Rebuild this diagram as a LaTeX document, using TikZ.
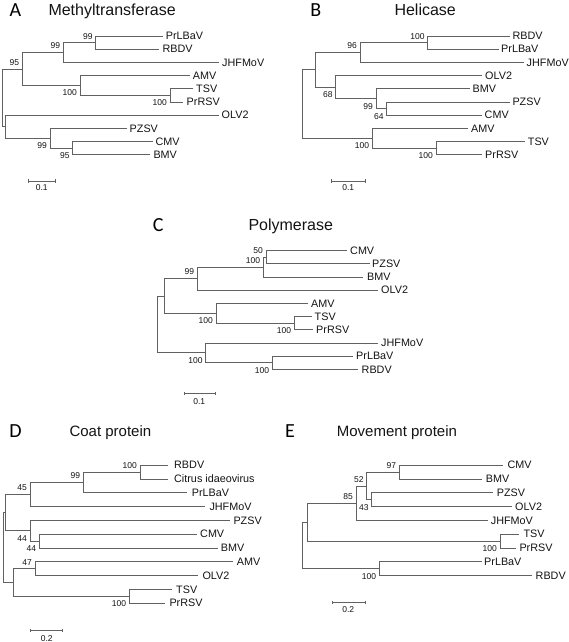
\documentclass[tikz,border=0pt]{standalone}
\usepackage{fontspec}
\setmainfont{Liberation Sans}
\newfontfamily\letterfont{Carlito}
\usetikzlibrary{arrows.meta}
\definecolor{linecol}{gray}{0.38}
\definecolor{txtcol}{gray}{0.08}
\tikzset{
  br/.style={draw=linecol, line width=0.75pt},
  leaf/.style={anchor=west, inner sep=0pt, font=\fontsize{10.8}{12}\selectfont, text=txtcol},
  bs/.style={anchor=east, inner sep=0pt, font=\fontsize{8.5}{10}\selectfont, text=txtcol},
  ptitle/.style={anchor=base west, inner sep=0pt, text=txtcol},
  pletter/.style={anchor=base, inner sep=0pt, font=\letterfont\fontsize{20}{24}\selectfont, text=black},
  sbar/.style={draw=linecol, line width=0.75pt, arrows={Bar[width=3.5pt]-Bar[width=3.5pt]}},
}
% name, parent, x, y
\newcommand\tnode[4]{\coordinate (#1) at (#3,#4); \draw[br] (#2) |- (#1);}
% name, parent, end x, y, label x, text
\newcommand\tleaf[6]{\coordinate (#1) at (#3,#4); \node[leaf] (#1t) at (#5,#4) {#6}; \draw[br] (#2) |- (#1);}
\newcommand\bup[2]{\node[bs] (#1bs) at ([shift={(-3,-6.5)}]#1) {#2};}
\newcommand\bdn[2]{\node[bs] (#1bs) at ([shift={(-3,7.5)}]#1) {#2};}
\begin{document}
\begin{tikzpicture}[x=1pt,y=-1pt]
\fill[white] (0,0) rectangle (568,642);
\useasboundingbox (0,0) rectangle (568,642);

% ---------------- Panel A ----------------
\node[pletter] (Alet) at (15.3,16.5) {A};
\node[ptitle, font=\fontsize{16}{19}\selectfont] (Atit) at (48.3,16) {Methyltransferase};
\coordinate (aR) at (2.3,97.9);
\tnode{a95}{aR}{22.3}{69}
\tnode{a99a}{a95}{63.3}{52.5}
\tnode{a99b}{a99a}{95.7}{42.6}
\tleaf{aPrLBaV}{a99b}{163.3}{36}{165.7}{PrLBaV}
\tleaf{aRBDV}{a99b}{159.3}{49.2}{162.3}{RBDV}
\tleaf{aJHF}{a99a}{218.7}{62.4}{222}{JHFMoV}
\tnode{aAMVn}{a95}{80}{85.5}
\tleaf{aAMV}{aAMVn}{190}{75.6}{192.7}{AMV}
\tnode{aTSVn}{aAMVn}{170}{95.4}
\tleaf{aTSV}{aTSVn}{193.3}{88.8}{196}{TSV}
\tleaf{aPrRSV}{aTSVn}{183.3}{102}{186.5}{PrRSV}
\tnode{aLow}{aR}{5.7}{126.75}
\tleaf{aOLV2}{aLow}{218.7}{115.2}{221.5}{OLV2}
\tnode{aPZn}{aLow}{50}{138.3}
\tleaf{aPZSV}{aPZn}{126.7}{128.4}{129.5}{PZSV}
\tnode{aCMVn}{aPZn}{72.7}{148.2}
\tleaf{aCMV}{aCMVn}{152.7}{141.6}{155.5}{CMV}
\tleaf{aBMV}{aCMVn}{150}{154.8}{153.3}{BMV}
\bup{a99b}{99} \bup{a99a}{99} \bup{a95}{95}
\bdn{aAMVn}{100} \bdn{aTSVn}{100} \bdn{aPZn}{99} \bdn{aCMVn}{95}
\coordinate (aS1) at (28.3,181); \coordinate (aS2) at (55.7,181);
\draw[sbar] (aS1) -- (aS2);
\node[bs, anchor=center] (aSl) at (41.7,187.7) {0.1};

% ---------------- Panel B ----------------
\node[pletter] (Blet) at (315.7,16.5) {B};
\node[ptitle, font=\fontsize{16}{19}\selectfont] (Btit) at (394.3,16) {Helicase};
\coordinate (bR) at (302.7,104.05);
\tnode{bMid}{bR}{315.7}{69.8}
\tnode{b96}{bMid}{360}{52.5}
\tnode{bRB}{b96}{427.7}{42.6}
\tleaf{bRBDV}{bRB}{510}{36}{512.3}{RBDV}
\tleaf{bPrLBaV}{bRB}{498.7}{49.2}{501}{PrLBaV}
\tleaf{bJHF}{b96}{523.5}{62.4}{526.5}{JHFMoV}
\tnode{b68}{bMid}{335.7}{87.15}
\tleaf{bOLV2}{b68}{481.7}{75.6}{485}{OLV2}
\tnode{b99}{b68}{376}{98.7}
\tleaf{bBMV}{b99}{470}{88.8}{472.5}{BMV}
\tnode{b64}{b99}{386.7}{108.6}
\tleaf{bPZSV}{b64}{510}{102}{512.3}{PZSV}
\tleaf{bCMV}{b64}{481.7}{115.2}{484.5}{CMV}
\tnode{bAMVn}{bR}{372.3}{138.3}
\tleaf{bAMV}{bAMVn}{468.3}{128.4}{471}{AMV}
\tnode{bTSVn}{bAMVn}{436}{148.2}
\tleaf{bTSV}{bTSVn}{525}{141.6}{527.7}{TSV}
\tleaf{bPrRSV}{bTSVn}{481.7}{154.8}{485}{PrRSV}
\bup{bRB}{100} \bup{b96}{96}
\bdn{b68}{68} \bdn{b99}{99} \bdn{b64}{64} \bdn{bAMVn}{100} \bdn{bTSVn}{100}
\coordinate (bS1) at (330.7,181); \coordinate (bS2) at (366,181);
\draw[sbar] (bS1) -- (bS2);
\node[bs, anchor=center] (bSl) at (348.3,187.7) {0.1};

% ---------------- Panel C ----------------
\node[pletter] (Clet) at (158.3,231) {C};
\node[ptitle, font=\fontsize{16}{19}\selectfont] (Ctit) at (248.3,230.3) {Polymerase};
\coordinate (cR) at (157.3,324.3);
\tnode{cUp}{cR}{164}{295.9}
\tnode{c99}{cUp}{197.3}{278.55}
\tnode{c100a}{c99}{263.3}{267}
\tnode{c50}{c100a}{266}{257.1}
\tleaf{cCMV}{c50}{346.7}{250.5}{350}{CMV}
\tleaf{cPZSV}{c50}{370}{263.7}{372}{PZSV}
\tleaf{cBMV}{c100a}{363.3}{276.9}{367}{BMV}
\tleaf{cOLV2}{c99}{378.3}{290.1}{381}{OLV2}
\tnode{cAMVn}{cUp}{216}{313.2}
\tleaf{cAMV}{cAMVn}{308.3}{303.3}{311}{AMV}
\tnode{cTSVn}{cAMVn}{294.3}{323.1}
\tleaf{cTSV}{cTSVn}{311.7}{316.5}{314.5}{TSV}
\tleaf{cPrRSV}{cTSVn}{313.3}{329.7}{316}{PrRSV}
\tnode{cLow}{cR}{205.7}{352.8}
\tleaf{cJHF}{cLow}{378.3}{342.9}{381}{JHFMoV}
\tnode{cPr}{cLow}{272.3}{362.7}
\tleaf{cPrLBaV}{cPr}{353.3}{356.1}{356}{PrLBaV}
\tleaf{cRBDV}{cPr}{358.3}{369.3}{361.5}{RBDV}
\bup{c50}{50} \bup{c100a}{100} \bup{c99}{99}
\bdn{cAMVn}{100} \bdn{cTSVn}{100} \bdn{cLow}{100} \bdn{cPr}{100}
\coordinate (cS1) at (184.3,393.3); \coordinate (cS2) at (215.7,393.3);
\draw[sbar] (cS1) -- (cS2);
\node[bs, anchor=center] (cSl) at (199.3,401.7) {0.1};

% ---------------- Panel D ----------------
\node[pletter] (Dlet) at (15.5,437) {D};
\node[ptitle, font=\fontsize{15}{18}\selectfont] (Dtit) at (69.3,436.7) {Coat protein};
\coordinate (dR) at (3.3,547.6);
\tnode{dP}{dR}{5}{512.65}
\tnode{d45}{dP}{30}{494.5}
\tnode{d99}{d45}{83.3}{482.45}
\tnode{dRB}{d99}{140}{472.1}
\tleaf{dRBDV}{dRB}{168.3}{465.2}{174}{RBDV}
\tleaf{dCit}{dRB}{168.3}{479}{174}{Citrus idaeovirus}
\tleaf{dPrLBaV}{d99}{186.7}{492.8}{191.7}{PrLBaV}
\tleaf{dJHF}{d45}{205}{506.6}{209.3}{JHFMoV}
\tnode{d44a}{dP}{30}{530.75}
\tleaf{dPZSV}{d44a}{230}{520.4}{233.3}{PZSV}
\tnode{d44b}{d44a}{39.3}{541.1}
\tleaf{dCMV}{d44b}{196.7}{534.2}{200}{CMV}
\tleaf{dBMV}{d44b}{218.3}{548}{220.7}{BMV}
\tnode{dLow}{dR}{13.3}{582.5}
\tnode{d47}{dLow}{35}{568.7}
\tleaf{dAMV}{d47}{233.3}{561.8}{236.7}{AMV}
\tleaf{dOLV2}{d47}{198.3}{575.6}{202.3}{OLV2}
\tnode{dTSVn}{dLow}{129.3}{596.3}
\tleaf{dTSV}{dTSVn}{171.7}{589.4}{176}{TSV}
\tleaf{dPrRSV}{dTSVn}{165}{603.2}{169.3}{PrRSV}
\bup{dRB}{100} \bup{d99}{99} \bup{d45}{45} \bup{d47}{47}
\bdn{d44a}{44} \bdn{d44b}{44} \bdn{dTSVn}{100}
\coordinate (dS1) at (30,630.7); \coordinate (dS2) at (62.7,630.7);
\draw[sbar] (dS1) -- (dS2);
\node[bs, anchor=center] (dSl) at (46.7,638.3) {0.2};

% ---------------- Panel E ----------------
\node[pletter] (Elet) at (290,437) {E};
\node[ptitle, font=\fontsize{15}{18}\selectfont] (Etit) at (336.7,436.7) {Movement protein};
\coordinate (eR) at (302.7,545.4);
\tnode{eUp}{eR}{307.3}{522.1}
\tnode{e85}{eUp}{356}{503.15}
\tnode{e52}{e85}{366.7}{485.9}
\tnode{e97}{e52}{399.3}{472.1}
\tleaf{eCMV}{e97}{503.3}{465.2}{507.3}{CMV}
\tleaf{eBMV}{e97}{481.7}{479}{485.7}{BMV}
\tnode{e43}{e52}{371.7}{499.7}
\tleaf{ePZSV}{e43}{493.3}{492.8}{496.7}{PZSV}
\tleaf{eOLV2}{e43}{511.7}{506.6}{515}{OLV2}
\tleaf{eJHF}{e85}{488.3}{520.4}{490.7}{JHFMoV}
\tnode{eTSVn}{eUp}{500}{541.1}
\tleaf{eTSV}{eTSVn}{519.3}{534.2}{523.3}{TSV}
\tleaf{ePrRSV}{eTSVn}{516}{548}{519.3}{PrRSV}
\tnode{ePr}{eR}{379.3}{568.7}
\tleaf{ePrLBaV}{ePr}{481.7}{561.8}{484}{PrLBaV}
\tleaf{eRBDV}{ePr}{531.7}{575.6}{535.5}{RBDV}
\bup{e97}{97} \bup{e52}{52} \bup{e85}{85}
\bdn{e43}{43} \bdn{eTSVn}{100} \bdn{ePr}{100}
\coordinate (eS1) at (331.7,602.3); \coordinate (eS2) at (366,602.3);
\draw[sbar] (eS1) -- (eS2);
\node[bs, anchor=center] (eSl) at (348.3,610) {0.2};
\end{tikzpicture}
\end{document}
